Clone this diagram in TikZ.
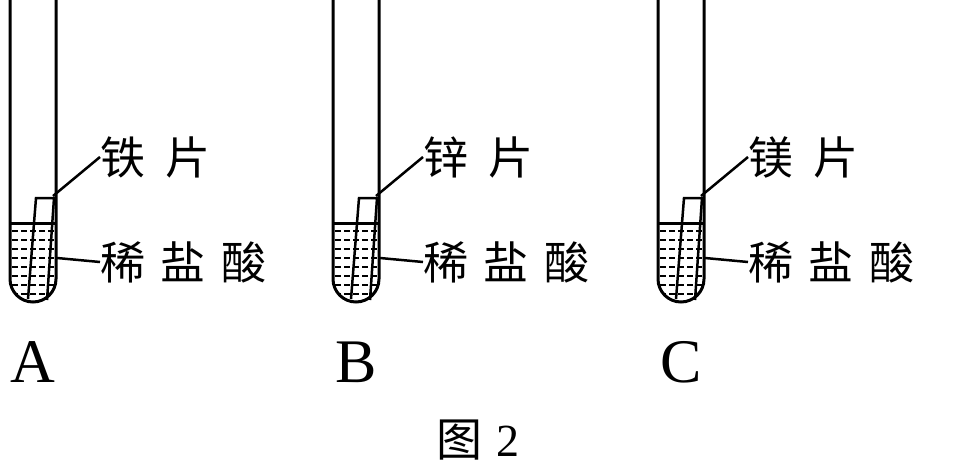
\documentclass[tikz,border=0pt]{standalone}
\usepackage{fontspec}
\setmainfont{Liberation Serif}
\newfontfamily\cjk{Noto Sans CJK SC}
\begin{document}
\begin{tikzpicture}[x=1pt,y=-1pt,
  wall/.style={line width=3pt},
  cjklab/.style={font=\cjk\fontsize{45}{48}\selectfont,anchor=west,inner sep=0pt},
  letter/.style={font=\fontsize{62}{66}\selectfont,inner sep=0pt}]
\useasboundingbox (0,0) rectangle (953,472);
\foreach \dx/\metal/\L in {0/铁/A,323/锌/B,648/镁/C}{
 \begin{scope}[xshift=\dx pt]
  \begin{scope}
   \clip (10,223) -- (56,223) -- (56,279) arc[start angle=0,end angle=180,radius=23] -- cycle;
   \foreach \yy in {231,240,...,300}{
     \draw[line width=2pt,dash pattern=on 6pt off 3pt] (12,\yy) -- (56,\yy);}
  \end{scope}
  \draw[wall] (10,0) -- (10,279) arc[start angle=180,end angle=0,radius=23] -- (56,0);
  \draw[wall] (10,223) -- (56,223);
  \draw[line width=2.5pt] (28,299) -- (36,198) -- (54,198) -- (47,300);
  \coordinate (s\L) at (53,196);
  \coordinate (q\L) at (57,258);
  \node[cjklab] (m\L) at (100,157) {\metal\hspace{0.45em}片};
  \node[cjklab] (h\L) at (100,262) {稀\hspace{0.35em}盐\hspace{0.35em}酸};
  \draw[line width=2.5pt] (s\L) -- (m\L.west);
  \draw[line width=2.5pt] (q\L) -- (h\L.west);
  \node[letter] (l\L) at (33,362) {\L};
 \end{scope}}
\node[font=\cjk\fontsize{46}{50}\selectfont,inner sep=0pt] (fig) at (478,440) {图\hspace{0.3em}\fontspec{Liberation Serif}2};
\end{tikzpicture}
\end{document}
